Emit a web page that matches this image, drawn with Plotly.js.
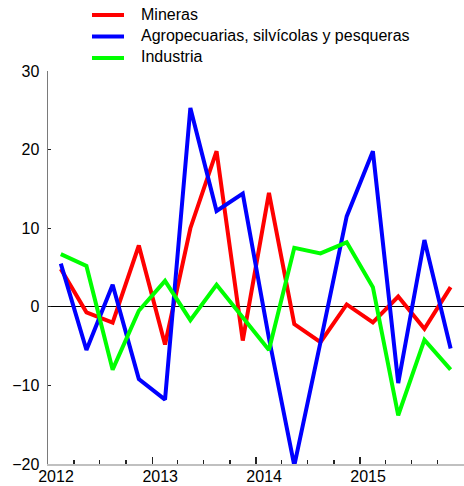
<!DOCTYPE html>
<html>
<head>
<meta charset="utf-8">
<script src="https://cdn.plot.ly/plotly-3.0.1.min.js"></script>
<style>
html,body{margin:0;padding:0;background:#fff;}
#chart{width:464px;height:486px;}
</style>
</head>
<body>
<div id="chart"></div>
<script>
// Quarterly periods (mid-quarter dates)
var quarters = ['2012-02-15','2012-05-15','2012-08-15','2012-11-15',
                '2013-02-15','2013-05-15','2013-08-15','2013-11-15',
                '2014-02-15','2014-05-15','2014-08-15','2014-11-15',
                '2015-02-15','2015-05-15','2015-08-15','2015-11-15'];
var seriesNames = ['Mineras', 'Agropecuarias, silvícolas y pesqueras', 'Industria'];
var mineras = [4.8, -0.7, -2.0, 7.8, -4.8, 10.0, 19.8, -4.3, 14.5, -2.2, -4.5, 0.3, -2.0, 1.3, -2.8, 2.5];
var agro    = [5.5, -5.5, 2.8, -9.2, -11.8, 25.3, 12.2, 14.4, -4.0, -20.2, -4.5, 11.5, 19.8, -9.7, 8.5, -5.3];
var industria = [6.7, 5.2, -8.0, -0.5, 3.3, -1.7, 2.8, -1.3, -5.5, 7.5, 6.8, 8.2, 2.5, -13.8, -4.2, -8.0];
var yearTicks = ['2012-01-01','2013-01-01','2014-01-01','2015-01-01'];
var yearLabels = ['2012','2013','2014','2015'];
var yTicks = [-20, -10, 0, 10, 20, 30];

var colors = ['#ff0000', '#0000ff', '#00ff00'];
var values = [mineras, agro, industria];

var traces = values.map(function(v, i){
  return {x: quarters, y: v, type: 'scatter', mode: 'lines', name: seriesNames[i],
          line: {color: colors[i], width: 4}, showlegend: false};
});

var font = {family: 'Liberation Sans, Arial, sans-serif', size: 16, color: '#000'};

// custom legend (pixel placement converted to paper coords)
var L = 48, T = 71, PW = 416, PH = 393;
function px(x){ return (x - L) / PW; }
function py(y){ return (T + PH - y) / PH; }
var legendY = [15, 36.5, 58];
var shapes = [], annotations = [];
seriesNames.forEach(function(n, i){
  shapes.push({type:'line', xref:'paper', yref:'paper', x0:px(92), x1:px(124), y0:py(legendY[i]), y1:py(legendY[i]),
               line:{color:colors[i], width:4}});
  annotations.push({xref:'paper', yref:'paper', x:px(139), y:py(legendY[i]), xanchor:'left', yanchor:'middle',
                    text:n, showarrow:false, font:font, yshift:1});
});

var layout = {
  width: 464, height: 486,
  margin: {l: L, r: 0, t: T, b: 486 - T - PH},
  paper_bgcolor: '#fff', plot_bgcolor: '#fff',
  font: font,
  showlegend: false,
  xaxis: {
    type: 'date', range: ['2012-01-01', '2016-01-01'],
    tickvals: yearTicks, ticktext: yearLabels,
    ticks: 'inside', ticklen: 7, tickwidth: 1.3, tickcolor: '#222',
    ticklabelshift: 8, ticklabelstandoff: -3,
    minor: {dtick: 'M3', tick0: '2012-01-01', ticks: 'inside', ticklen: 4, tickwidth: 1.3, tickcolor: '#222', showgrid: false},
    showline: true, linecolor: '#c0c0c0', linewidth: 2,
    showgrid: false, zeroline: false, tickfont: font, fixedrange: true
  },
  yaxis: {
    range: [-20, 30], tickvals: yTicks,
    ticks: 'inside', ticklen: 3, tickwidth: 1.3, tickcolor: '#222',
    ticklabelstandoff: 4,
    showline: true, linecolor: '#7a7a7a', linewidth: 1.5,
    showgrid: false, zeroline: true, zerolinecolor: '#000', zerolinewidth: 1,
    tickfont: font, fixedrange: true
  },
  shapes: shapes,
  annotations: annotations
};

Plotly.newPlot('chart', traces, layout, {displayModeBar: false, staticPlot: true});
</script>
</body>
</html>
